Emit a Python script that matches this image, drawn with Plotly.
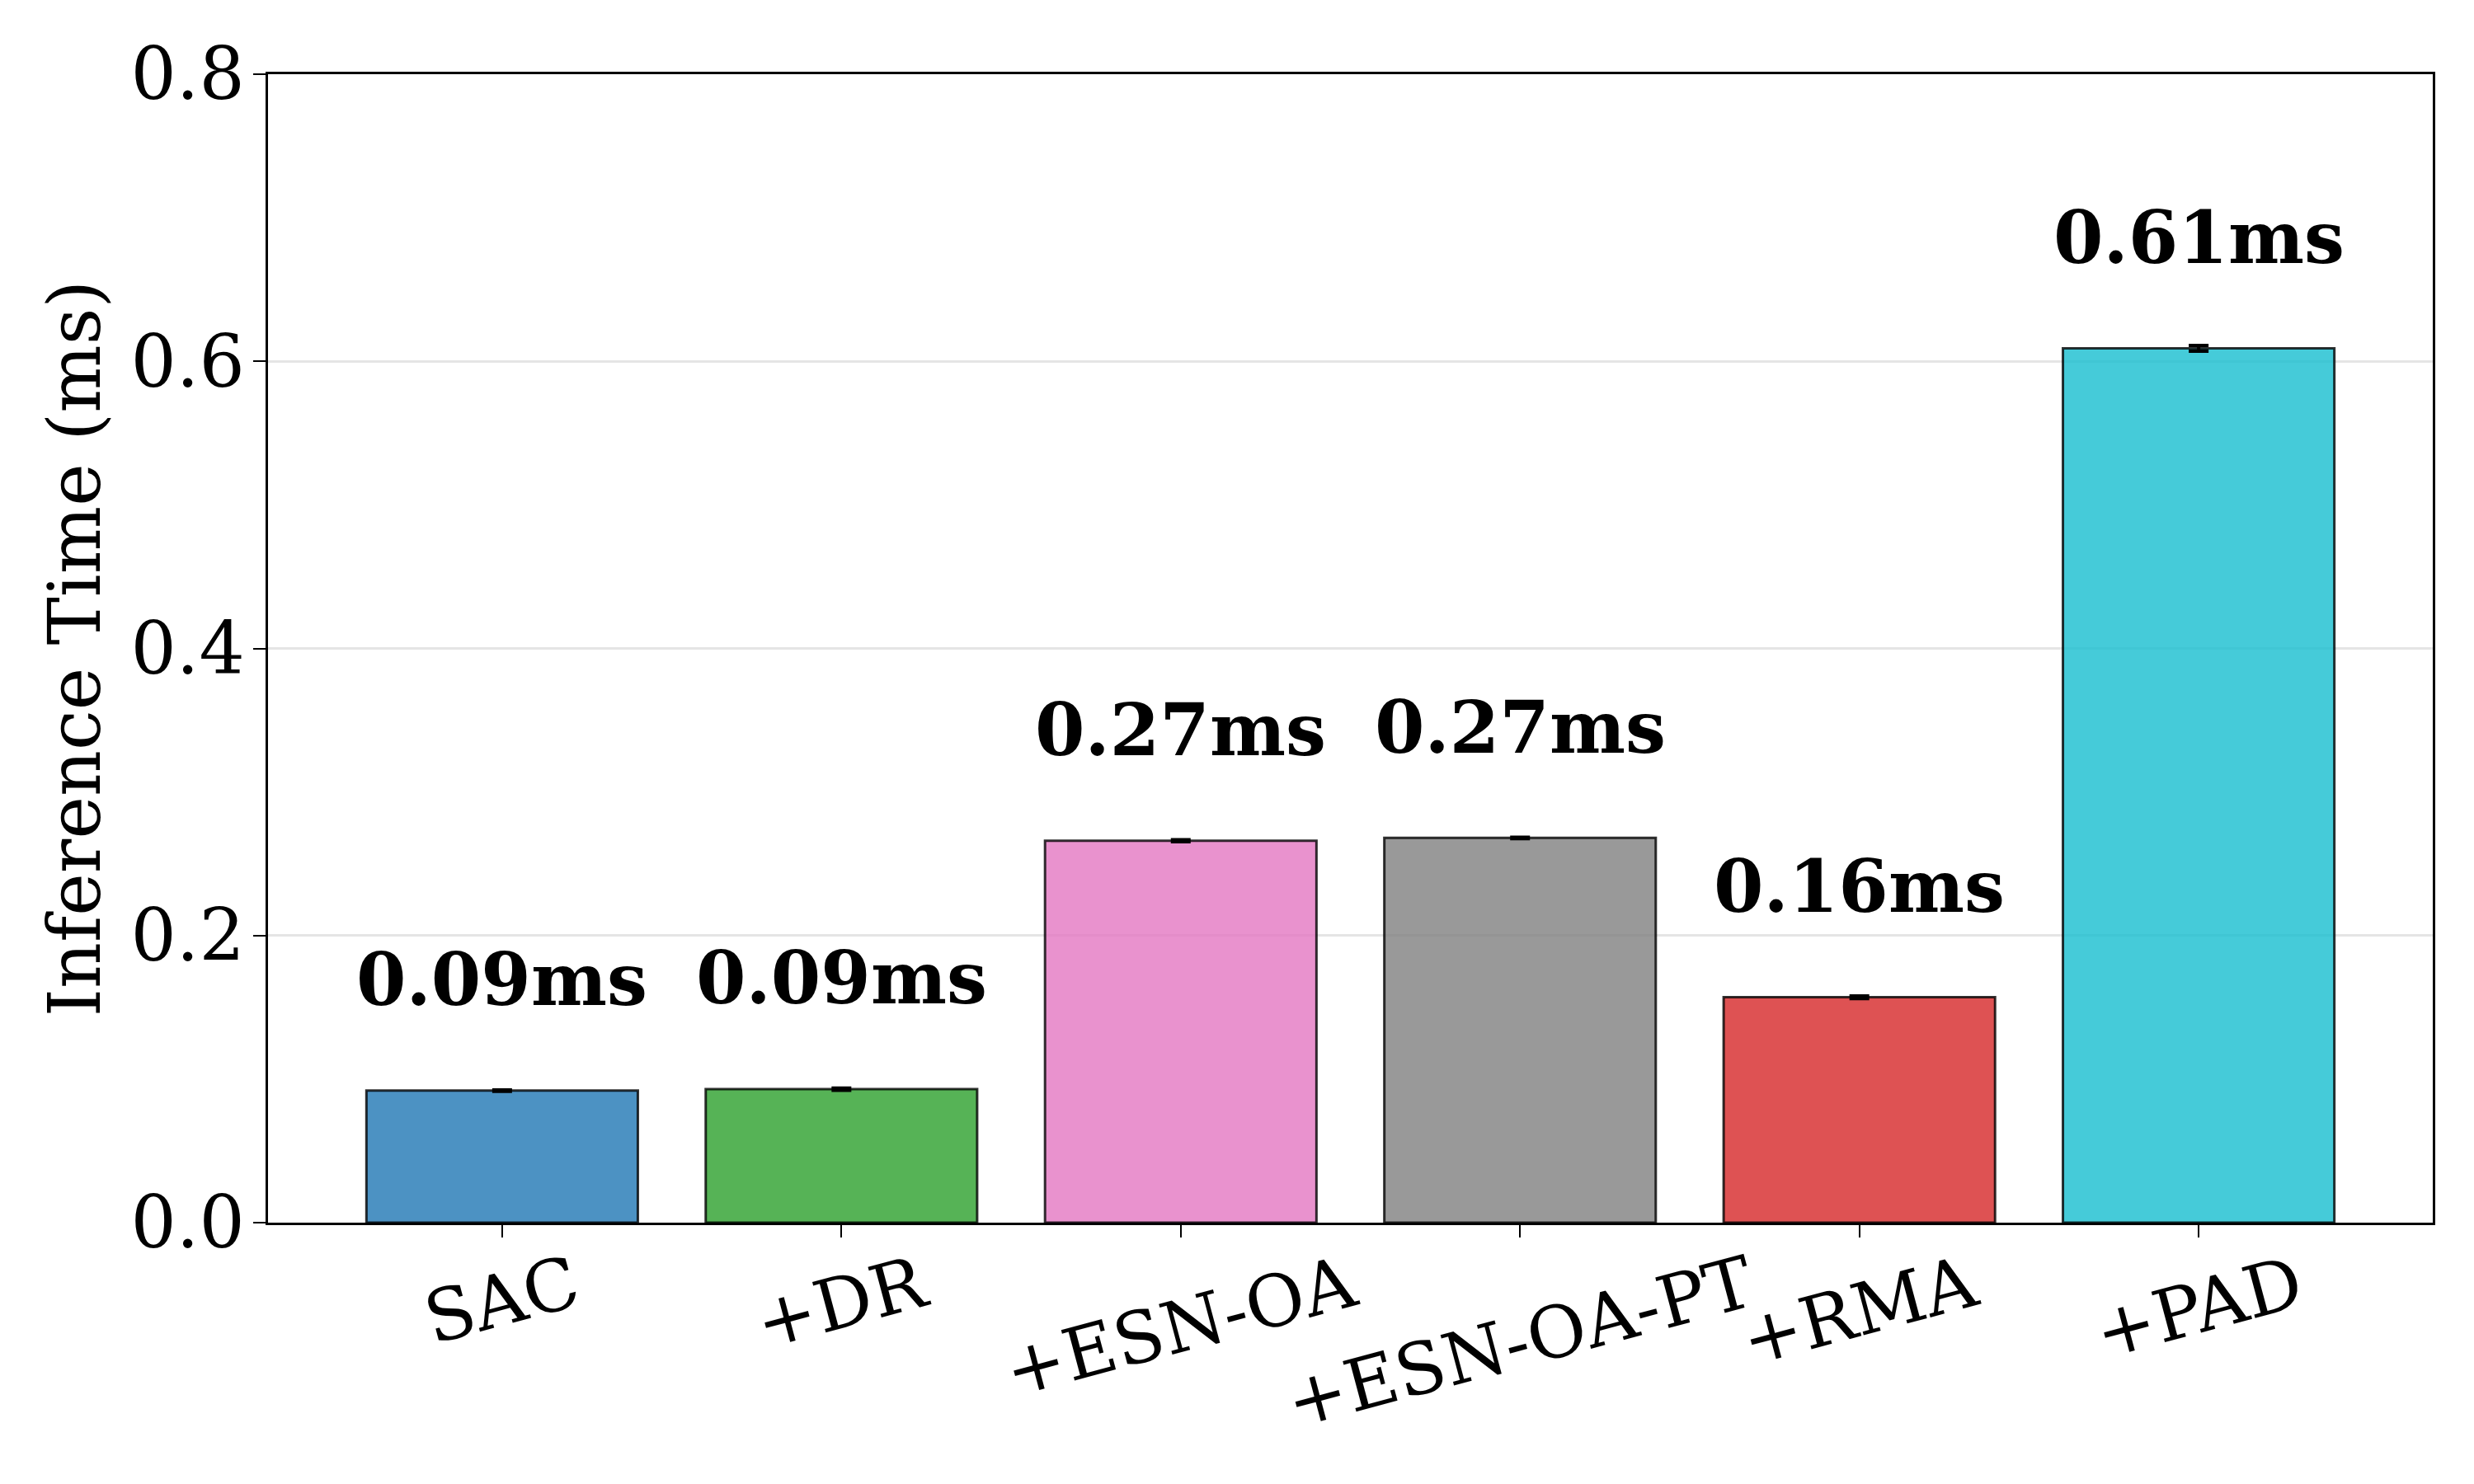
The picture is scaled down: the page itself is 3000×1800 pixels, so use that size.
import plotly.graph_objects as go

# Inference time per method (ms)
methods = ['SAC', '+DR', '+ESN-OA', '+ESN-OA-PT', '+RMA', '+PAD']
times = [0.092, 0.093, 0.266, 0.268, 0.157, 0.609]
errors = [0.0005, 0.0008, 0.0007, 0.0005, 0.001, 0.002]
colors = ['rgba(31,119,180,0.8)', 'rgba(44,160,44,0.8)', 'rgba(227,119,194,0.8)',
          'rgba(127,127,127,0.8)', 'rgba(214,39,40,0.8)', 'rgba(23,190,207,0.8)']
yticks = [0.0, 0.2, 0.4, 0.6, 0.8]

FONT = 'DejaVu Serif'

fig = go.Figure()
fig.add_trace(go.Bar(
    x=list(range(len(methods))),
    y=times,
    width=0.8,
    marker=dict(color=colors, line=dict(color='rgba(0,0,0,0.8)', width=3)),
    error_y=dict(type='data', array=errors, visible=True,
                 color='black', thickness=4, width=12),
    showlegend=False,
))

# value labels above the bars
for i, t in enumerate(times):
    fig.add_annotation(
        x=i, y=t + 0.077, xref='x', yref='y',
        text=f'<b>{t:.2f}ms</b>', showarrow=False,
        font=dict(family=FONT, size=87, color='black'),
        yanchor='middle',
    )

# rotated category labels, centred on the ticks
for i, m in enumerate(methods):
    fig.add_annotation(
        x=i, y=0, xref='x', yref='paper',
        text=m, showarrow=False, textangle=-15,
        font=dict(family=FONT, size=87, color='black'),
        xanchor='center', yanchor='top', yshift=-18,
    )

fig.update_layout(
    width=3000,
    height=1800,
    plot_bgcolor='white',
    paper_bgcolor='white',
    font=dict(family=FONT, size=87, color='black'),
    margin=dict(l=317, r=58, t=82, b=325),
    bargap=0.2,
    xaxis=dict(
        range=[-0.69, len(methods) - 1 + 0.69],
        tickvals=list(range(len(methods))),
        ticktext=['' for _ in methods],
        ticks='outside', ticklen=15, tickwidth=2, tickcolor='black',
        showline=True, linecolor='black', linewidth=2.5, mirror=True,
        showgrid=False, zeroline=False,
    ),
    yaxis=dict(
        range=[0, 0.8],
        tickvals=yticks,
        tickformat='.1f',
        ticks='outside', ticklen=15, tickwidth=2, tickcolor='black',
        ticklabelstandoff=-7,
        showline=True, linecolor='black', linewidth=2.5, mirror=True,
        showgrid=True, gridcolor='rgba(0,0,0,0.1)', gridwidth=2.5,
        zeroline=False,
        title=dict(text='Inference Time (ms)', standoff=9,
                   font=dict(family=FONT, size=87)),
        automargin=False,
    ),
)

fig.write_html('out.html')
